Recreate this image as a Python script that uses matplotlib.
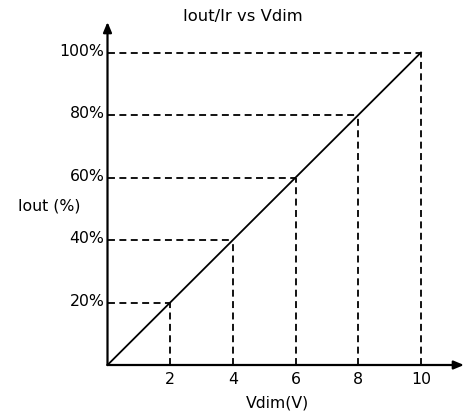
import matplotlib
matplotlib.use("Agg")
import matplotlib.pyplot as plt
from matplotlib.transforms import offset_copy

# Datos
vdim = [2, 4, 6, 8, 10]
iout = [20, 40, 60, 80, 100]
x_labels = ["2", "4", "6", "8", "10"]
y_labels = ["20%", "40%", "60%", "80%", "100%"]

W, H = 466, 417
plt.rcParams["lines.scale_dashes"] = False

fig = plt.figure(figsize=(W / 100, H / 100), dpi=100)
# origen en (107.5, 365) px, flechas hasta x=464 y y=22
left, bottom = 107.5 / W, (H - 365) / H
ax = fig.add_axes([left, bottom, (464 - 107.5) / W, (365 - 22) / H])
ax.set_xlim(0, (464 - 107.5) / 31.35)
ax.set_ylim(0, (365 - 22) / 3.125)
for s in ax.spines.values():
    s.set_visible(False)
ax.patch.set_alpha(0)

# lineas guia punteadas
for xv, yv in zip(vdim, iout):
    ax.plot([0, xv], [yv, yv], color="black", lw=1.3, dashes=(5, 3.2),
            clip_on=False)
    ax.plot([xv, xv], [0, yv], color="black", lw=1.3, dashes=(5, 3.2),
            clip_on=False)

# recta Iout = 10 * Vdim
ax.plot([0] + vdim, [0] + iout, color="black", lw=1.3, clip_on=False)

# ejes con flecha
arrow = dict(arrowstyle="-|>,head_length=0.6,head_width=0.25",
             color="black", lw=1.6, shrinkA=0, shrinkB=0)
ax.annotate("", xy=(ax.get_xlim()[1], 0), xytext=(0, 0),
            arrowprops=arrow, annotation_clip=False)
ax.annotate("", xy=(0, ax.get_ylim()[1]), xytext=(0, 0),
            arrowprops=arrow, annotation_clip=False)

ax.set_xticks(vdim)
ax.set_xticklabels(x_labels)
ax.set_yticks([])
ax.tick_params(length=0, labelsize=11.3)
ax.tick_params(axis="x", pad=5)

# etiquetas del eje y, un poco por encima de la linea (como el original)
ylab_tr = offset_copy(ax.transData, fig=fig, x=-3, y=3, units="dots")
for yv, lab in zip(iout, y_labels):
    ax.text(0, yv, lab, transform=ylab_tr, ha="right", va="center_baseline",
            fontsize=11.3, clip_on=False)

fig.text(243 / W, 1 - 17 / H, "Iout/Ir vs Vdim", ha="center", va="center",
         fontsize=11.8)
fig.text(278 / W, 1 - 403 / H, "Vdim(V)", ha="center", va="center",
         fontsize=11.3)
fig.text(49 / W, 1 - 206 / H, "Iout (%)", ha="center", va="center",
         fontsize=11.3)

fig.savefig("out.png", dpi=100)
